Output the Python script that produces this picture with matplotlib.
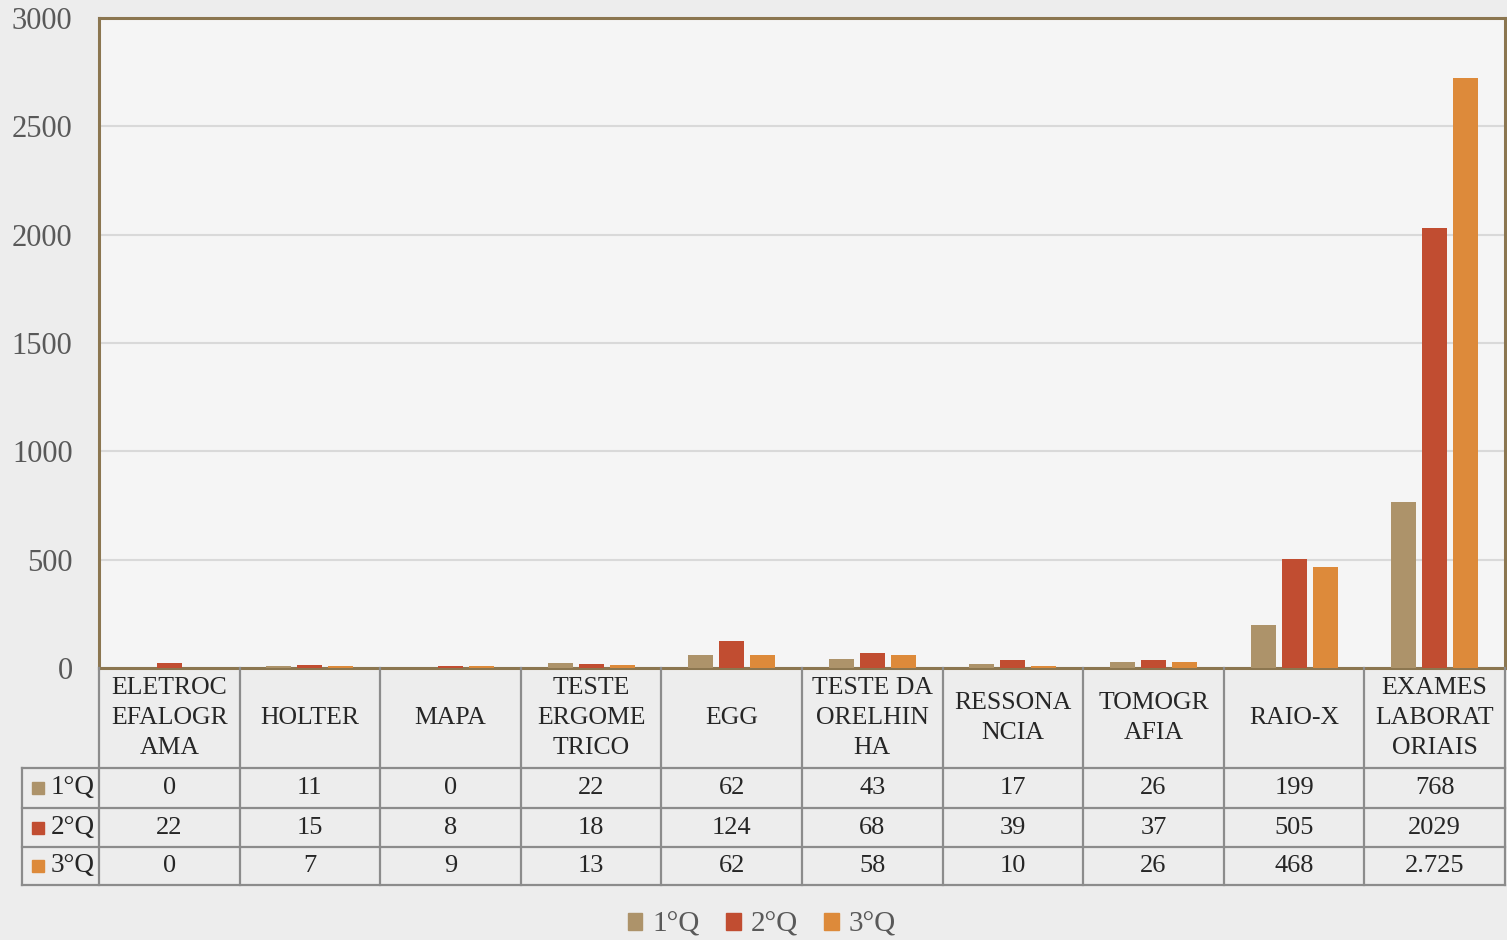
import matplotlib
matplotlib.use("Agg")
import matplotlib.pyplot as plt
from matplotlib.patches import Rectangle
import numpy as np

categories = ["ELETROC\nEFALOGR\nAMA", "HOLTER", "MAPA", "TESTE\nERGOME\nTRICO", "EGG",
              "TESTE DA\nORELHIN\nHA", "RESSONA\nNCIA", "TOMOGR\nAFIA", "RAIO-X",
              "EXAMES\nLABORAT\nORIAIS"]
series_names = ["1°Q", "2°Q", "3°Q"]
q1 = [0, 11, 0, 22, 62, 43, 17, 26, 199, 768]
q2 = [22, 15, 8, 18, 124, 68, 39, 37, 505, 2029]
q3 = [0, 7, 9, 13, 62, 58, 10, 26, 468, 2725]
q1_text = ["0", "11", "0", "22", "62", "43", "17", "26", "199", "768"]
q2_text = ["22", "15", "8", "18", "124", "68", "39", "37", "505", "2029"]
q3_text = ["0", "7", "9", "13", "62", "58", "10", "26", "468", "2.725"]
y_ticks = [0, 500, 1000, 1500, 2000, 2500, 3000]

colors = ["#AD936A", "#C14D31", "#DD8A3A"]
border = "#8B7650"
gridc = "#D9D9D9"
tablec = "#8C8C8C"
txtc = "#262626"
tickc = "#595959"

plt.rcParams['font.family'] = ['Liberation Serif', 'DejaVu Serif']

W, H = 1507, 940
fig = plt.figure(figsize=(W / 100, H / 100), dpi=100)
fig.patch.set_facecolor("#EDEDED")

def fx(px):
    return px / W

def fy(py):
    return 1 - py / H

ax_l, ax_r, ax_t, ax_b = 99, 1505, 18, 668
ax = fig.add_axes([fx(ax_l), fy(ax_b), fx(ax_r - ax_l), (ax_b - ax_t) / H])
ax.set_facecolor("#F5F5F5")
n = len(categories)
x = np.arange(n)
bw = 0.178
step = 0.22
for i, (vals, c) in enumerate(zip([q1, q2, q3], colors)):
    ax.bar(x + (i - 1) * step, vals, width=bw, color=c, zorder=3, label=series_names[i])
ax.set_xlim(-0.5, n - 0.5)
ax.set_ylim(0, 3000)
ax.set_yticks(y_ticks)
ax.set_yticklabels([str(t) for t in y_ticks], fontsize=22, color=tickc)
ax.tick_params(axis='y', length=0, pad=19)
ax.set_xticks([])
ax.grid(axis='y', color=gridc, lw=1.5, zorder=0)
for s in ax.spines.values():
    s.set_color(border)
    s.set_linewidth(2.2)

# table axes
cw = (ax_r - ax_l) / n
tab_l, tab_b = 22, 885
tax = fig.add_axes([fx(tab_l), fy(tab_b), fx(ax_r - tab_l), (tab_b - ax_b) / H])
tax.set_xlim(-0.5 - (ax_l - tab_l) / cw, n - 0.5)
rows_y = [0, 38, 77, 117, 217]  # bottom of table upward, in pixels
tax.set_ylim(0, rows_y[-1])
tax.axis('off')
tax.patch.set_alpha(0)
xl = -0.5 - (ax_l - tab_l) / cw
lw = 1.6
for yv in rows_y[:4]:
    tax.plot([xl, n - 0.5], [yv, yv], color=tablec, lw=lw, clip_on=False)
for k in range(n + 1):
    tax.plot([k - 0.5, k - 0.5], [0, rows_y[-1]], color=tablec, lw=lw, clip_on=False)
tax.plot([xl, xl], [0, rows_y[3]], color=tablec, lw=lw, clip_on=False)

hy = (rows_y[3] + rows_y[4]) / 2
for k, cat in enumerate(categories):
    tax.text(k, hy, cat, ha='center', va='center', fontsize=18.5, color=txtc,
             linespacing=1.45)
row_vals = [q1_text, q2_text, q3_text]
for r in range(3):
    yc = (rows_y[2 - r] + rows_y[3 - r]) / 2
    for k in range(n):
        tax.text(k, yc, row_vals[r][k], ha='center', va='center', fontsize=19, color=txtc)
    sq_w = 12 / cw
    tax.add_patch(Rectangle((xl + 10 / cw, yc - 6), sq_w, 12, color=colors[r], clip_on=False))
    tax.text(xl + 29 / cw, yc, series_names[r], ha='left', va='center', fontsize=19.5, color=txtc)

handles = [Rectangle((0, 0), 1, 1, color=c) for c in colors]
leg = fig.legend(handles, series_names, loc='center', bbox_to_anchor=(fx(762), fy(925)),
                 ncol=3, frameon=False, fontsize=21, handlelength=0.5, handleheight=0.5,
                 handletextpad=0.35, columnspacing=0.9)
for t in leg.get_texts():
    t.set_color(tickc)

fig.savefig("out.png", dpi=100, facecolor=fig.get_facecolor())
